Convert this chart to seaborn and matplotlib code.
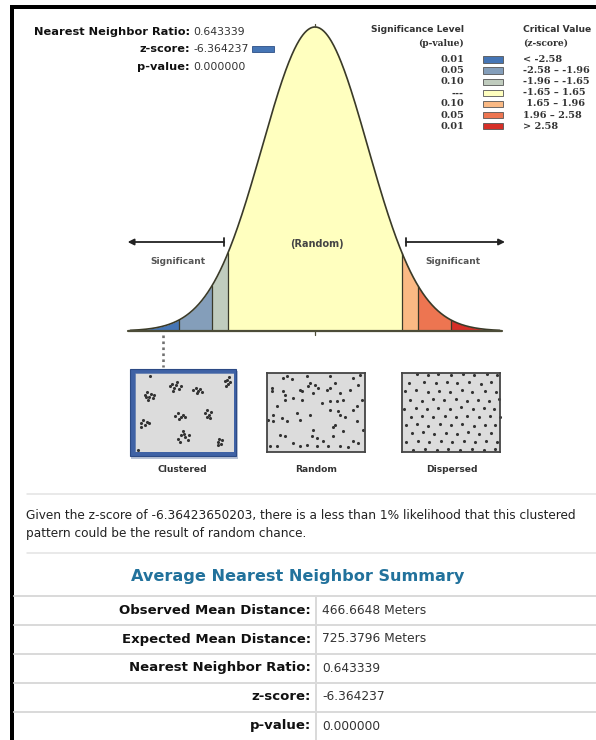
import numpy as np
import pandas as pd
import matplotlib
matplotlib.use("Agg")
import matplotlib.pyplot as plt
from matplotlib.patches import Rectangle
import seaborn as sns

# ---------------- data ----------------
z_bounds = [-2.58, -1.96, -1.65, 1.65, 1.96, 2.58]
z_range = [-3.5, 3.5]
bin_colors = ["#4575B5", "#849EBA", "#C0CCBE", "#FFFFBF", "#FAB984", "#ED7551", "#D62F27"]
p_levels = ["0.01", "0.05", "0.10", "---", "0.10", "0.05", "0.01"]
crit_labels = ["< -2.58", "-2.58 \u2013 -1.96", "-1.96 \u2013 -1.65", "-1.65 \u2013 1.65",
               " 1.65 \u2013 1.96", "1.96 \u2013 2.58", "> 2.58"]

nn_ratio = "0.643339"
z_score = "-6.364237"
p_value = "0.000000"
z_full = "-6.36423650203"

summary_labels = ["Observed Mean Distance:", "Expected Mean Distance:",
                  "Nearest Neighbor Ratio:", "z-score:", "p-value:"]
summary_values = ["466.6648 Meters", "725.3796 Meters", "0.643339", "-6.364237", "0.000000"]

pattern_names = ["Clustered", "Random", "Dispersed"]

clustered_pts = [(30, 65), (36, 58), (42, 70), (48, 62), (55, 75), (40, 80), (58, 66), (34, 72),
                 (105, 40), (112, 32), (118, 45), (125, 35), (132, 48), (138, 38), (115, 55), (128, 28),
                 (175, 50), (182, 45), (188, 55), (195, 48), (200, 58), (185, 60),
                 (270, 25), (276, 20), (280, 32), (274, 40), (284, 28),
                 (122, 128), (130, 120), (138, 132), (145, 124), (150, 130), (134, 136),
                 (210, 118), (216, 110), (222, 125), (228, 115), (215, 132), (225, 135),
                 (18, 150), (25, 140), (32, 155), (38, 145), (44, 150), (20, 160),
                 (130, 195), (138, 185), (145, 172), (150, 190), (158, 198), (162, 185), (135, 205), (148, 180),
                 (248, 205), (253, 197), (258, 210), (262, 200), (250, 214),
                 (45, 8), (10, 230), (283, 12)]

random_pts = [(15, 45), (15, 55), (48, 55), (55, 65), (48, 15), (75, 18), (100, 50), (105, 55),
              (125, 40), (130, 30), (145, 35), (140, 60), (155, 45), (180, 50), (190, 45), (205, 30),
              (220, 60), (250, 50), (275, 35), (280, 5), (260, 15), (230, 80), (210, 85), (190, 85),
              (165, 90), (105, 80), (80, 75), (55, 80), (30, 100), (20, 125), (45, 135), (20, 145),
              (60, 145), (100, 140), (130, 125), (190, 110), (215, 115), (220, 125), (235, 132),
              (260, 110), (285, 80), (270, 145), (290, 170), (205, 155), (200, 162), (140, 170),
              (135, 190), (150, 195), (170, 205), (200, 190), (230, 175), (260, 205), (275, 210),
              (40, 185), (55, 190), (80, 210), (100, 220), (120, 215), (150, 220), (185, 220),
              (220, 220), (245, 222), (10, 220), (30, 218), (60, 10), (120, 10), (190, 10),
              (3, 140), (90, 120), (270, 100)]

dispersed_pts = [(45, 4), (78, 7), (110, 3), (148, 6), (182, 4), (216, 7), (255, 3), (286, 6),
                 (22, 30), (68, 27), (104, 31), (137, 26), (166, 30), (201, 27), (236, 32), (268, 28),
                 (10, 55), (42, 52), (79, 57), (112, 53), (146, 56), (179, 52), (211, 57), (249, 54), (282, 57),
                 (26, 80), (61, 83), (95, 78), (128, 82), (161, 79), (194, 84), (228, 80), (262, 83), (291, 78),
                 (7, 107), (43, 104), (76, 109), (110, 105), (144, 108), (178, 103), (213, 107), (246, 104), (276, 109),
                 (28, 131), (60, 128), (93, 133), (129, 129), (162, 132), (196, 128), (230, 133), (264, 129), (293, 132),
                 (12, 156), (46, 153), (80, 158), (115, 154), (148, 157), (181, 153), (215, 158), (248, 155), (280, 157),
                 (30, 181), (64, 178), (98, 183), (132, 179), (165, 182), (198, 178), (232, 183), (266, 180),
                 (14, 206), (48, 203), (82, 208), (117, 204), (151, 207), (185, 203), (218, 208), (252, 205), (286, 207),
                 (35, 230), (70, 228), (105, 231), (140, 229), (175, 231), (210, 228), (245, 231), (279, 229)]

# ---------------- setup ----------------
sns.set_theme(style="white")
plt.rcParams["font.family"] = ["DejaVu Sans"]

W, H = 596, 740
fig = plt.figure(figsize=(W / 100, H / 100), dpi=100, facecolor="white")


def px_axes(left, top, width, height):
    return fig.add_axes([left / W, 1 - (top + height) / H, width / W, height / H])


# overlay in pixel coordinates
ax0 = fig.add_axes([0, 0, 1, 1])
ax0.set_xlim(0, W)
ax0.set_ylim(H, 0)
ax0.axis("off")
PT = 0.72  # points per pixel

# borders
ax0.plot([10, W], [7, 7], color="black", lw=4 * PT, solid_capstyle="butt")
ax0.plot([12, 12], [5, H], color="black", lw=4 * PT, solid_capstyle="butt")

# top-left summary
top_labels = ["Nearest Neighbor Ratio:", "z-score:", "p-value:"]
top_values = [nn_ratio, z_score, p_value]
for i, (lab, val) in enumerate(zip(top_labels, top_values)):
    y = 32 + i * 17.5
    ax0.text(190, y, lab, ha="right", va="center", fontsize=8.2, fontweight="bold", color="#111")
    ax0.text(193, y, val, ha="left", va="center", fontsize=7.8, color="#333")
ax0.add_patch(Rectangle((252, 46), 22, 6, facecolor=bin_colors[0], edgecolor="#2d4f86", lw=0.6))

# legend
ax0.text(464, 30, "Significance Level", ha="right", va="center", fontsize=6.6, fontweight="bold", color="#333")
ax0.text(464, 43, "(p-value)", ha="right", va="center", fontsize=6.6, fontweight="bold",
         color="#333", family="DejaVu Serif")
ax0.text(523, 30, "Critical Value", ha="left", va="center", fontsize=6.6, fontweight="bold", color="#333")
ax0.text(523, 43, "(z-score)", ha="left", va="center", fontsize=6.6, fontweight="bold",
         color="#333", family="DejaVu Serif")
for i, (pl, cl, col) in enumerate(zip(p_levels, crit_labels, bin_colors)):
    y = 59.5 + i * 11.1
    ax0.text(464, y, pl, ha="right", va="center", fontsize=7.0, fontweight="bold",
             color="#333", family="DejaVu Serif")
    ax0.add_patch(Rectangle((483, y - 3.2), 20, 6.4, facecolor=col, edgecolor="#555", lw=0.6))
    ax0.text(523, y, cl, ha="left", va="center", fontsize=7.0, fontweight="bold",
             color="#333", family="DejaVu Serif")

# ---------------- bell curve ----------------
zmin, zmax = -3.6, 3.6
cx, ppz = 315, 52.78
axc = px_axes(cx + zmin * ppz, 27, (zmax - zmin) * ppz, 304)
axc.set_facecolor("none")
z = np.linspace(z_range[0], z_range[1], 600)
dens = np.exp(-z ** 2 / 2) / np.sqrt(2 * np.pi)
peak = dens.max()
axc.set_xlim(zmin, zmax)
axc.set_ylim(0, peak)
axc.axis("off")

edges = [z_range[0]] + z_bounds + [z_range[1]]
for lo, hi, col in zip(edges[:-1], edges[1:], bin_colors):
    m = (z >= lo) & (z <= hi)
    zz = np.concatenate([[lo], z[m], [hi]])
    dd = np.exp(-zz ** 2 / 2) / np.sqrt(2 * np.pi)
    axc.fill_between(zz, 0, dd, color=col, lw=0)
for b in z_bounds:
    axc.plot([b, b], [0, np.exp(-b ** 2 / 2) / np.sqrt(2 * np.pi)], color="#3a3a2a", lw=0.9)

curve_df = pd.DataFrame({"z": z, "density": dens})
sns.lineplot(data=curve_df, x="z", y="density", ax=axc, color="#3a3a28", lw=1.2, clip_on=False)
axc.plot([z_range[0] - 0.05, z_range[1] + 0.05], [0, 0], color="#4d4d38", lw=1.6, clip_on=False)
# ticks at center
yk = peak / 304
axc.plot([0, 0], [0, -4 * yk], color="#4d4d38", lw=0.9, clip_on=False)
axc.plot([0, 0], [peak, peak + 3 * yk], color="#4d4d38", lw=0.9, clip_on=False)

# arrows
arr_y = (331 - 242) * yk
axc.annotate("", xy=(-3.55, arr_y), xytext=(-1.72, arr_y),
             arrowprops=dict(arrowstyle="-|>", color="#222", lw=1.3, mutation_scale=9,
                             shrinkA=0, shrinkB=0), annotation_clip=False)
axc.annotate("", xy=(3.6, arr_y), xytext=(1.72, arr_y),
             arrowprops=dict(arrowstyle="-|>", color="#222", lw=1.3, mutation_scale=9,
                             shrinkA=0, shrinkB=0), annotation_clip=False)
for xb in (-1.72, 1.72):
    axc.plot([xb, xb], [arr_y - 4 * yk, arr_y + 4 * yk], color="#222", lw=1.3, clip_on=False)

axc.text(0.04, (331 - 244) * yk, "(Random)", ha="center", va="center", fontsize=7.0,
         fontweight="bold", color="#444")
axc.text(-2.6, (331 - 262) * yk, "Significant", ha="center", va="center", fontsize=6.5,
         fontweight="bold", color="#555")
axc.text(2.61, (331 - 262) * yk, "Significant", ha="center", va="center", fontsize=6.5,
         fontweight="bold", color="#555")

# dotted connector to clustered pattern
ax0.plot([163, 163], [335, 367], color="#707070", lw=2.6 * PT, linestyle=(0, (1, 1.3)))

# ---------------- pattern boxes ----------------
box_specs = [(clustered_pts, 134.5, 373, 99, 79),
             (random_pts, 266.5, 373, 98.5, 78.5),
             (dispersed_pts, 401.5, 373, 99, 78.5)]
label_x = [182, 316, 452]
for k, (pts, l, t, w, h) in enumerate(box_specs):
    if k == 0:
        ax0.add_patch(Rectangle((131, 370.5), 107, 88, facecolor="#b9c3d6", edgecolor="none"))
        ax0.add_patch(Rectangle((130, 369), 106, 87, facecolor="#3f62a5", edgecolor="#2c4a85", lw=0.8))
    axb = px_axes(l, t, w, h)
    axb.set_facecolor("#dcdcdc")
    axb.set_xlim(0, 295)
    axb.set_ylim(235, 0)
    axb.set_xticks([])
    axb.set_yticks([])
    for sp in axb.spines.values():
        sp.set_visible(True)
        sp.set_color("#444" if k > 0 else "#3f62a5")
        sp.set_linewidth(1.3 if k > 0 else 0.5)
    sns.scatterplot(x=[p[0] for p in pts], y=[p[1] for p in pts], ax=axb, s=5,
                    color="#333", linewidth=0, marker="o", clip_on=False)
    axb.set_xlabel("")
    axb.set_ylabel("")
    ax0.text(label_x[k], 470, pattern_names[k], ha="center", va="center", fontsize=6.6,
             fontweight="bold", color="#333")

# ---------------- text report ----------------
sep_col = "#e2e2e2"
ax0.plot([27, W], [494, 494], color=sep_col, lw=1.5 * PT)
ax0.text(26, 516, f"Given the z-score of {z_full}, there is a less than 1% likelihood that this clustered",
         ha="left", va="center", fontsize=8.75, color="#222")
ax0.text(26, 534, "pattern could be the result of random chance.",
         ha="left", va="center", fontsize=8.75, color="#222")
ax0.plot([27, W], [553, 553], color=sep_col, lw=1.5 * PT)

ax0.text(298, 577, "Average Nearest Neighbor Summary", ha="center", va="center",
         fontsize=11.6, fontweight="bold", color="#22729c")

row_lines = [596, 625, 654, 683, 712]
for yl in row_lines:
    ax0.plot([14, W], [yl, yl], color="#dadada", lw=2 * PT)
ax0.plot([316, 316], [596, H], color="#dadada", lw=2 * PT)
for i, (lab, val) in enumerate(zip(summary_labels, summary_values)):
    y = 610 + i * 29
    ax0.text(311, y, lab, ha="right", va="center", fontsize=9.5, fontweight="bold", color="#111")
    ax0.text(322, y, val, ha="left", va="center", fontsize=8.8, color="#333")

fig.savefig("out.png", dpi=100, facecolor="white")
